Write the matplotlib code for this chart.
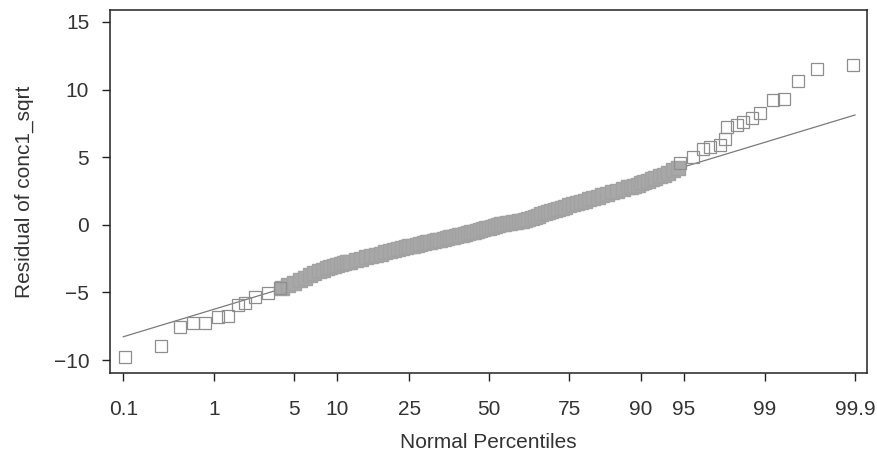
import matplotlib
matplotlib.use("Agg")
import matplotlib.pyplot as plt
from statistics import NormalDist

plt.rcParams['font.family'] = ['Liberation Sans', 'DejaVu Sans']

# ---- data (percentile, residual) ----
lower_pct = [0.105, 0.277, 0.452, 0.622, 0.82, 1.11, 1.38, 1.70, 1.96, 2.40, 3.11, 3.86]
lower_res = [-9.75, -8.96, -7.53, -7.24, -7.24, -6.79, -6.74, -5.93, -5.80, -5.31, -5.06, -4.69]

band_pct = [4.0, 4.5, 5.0, 5.5, 6.0, 6.5, 7.0, 7.5, 8.0, 8.5, 9.0, 9.5, 10, 10.5, 11, 11.5, 12,
            13, 14, 15, 16, 17, 18, 19, 20, 21, 22, 23, 24, 25, 26, 27, 28, 29, 30,
            31, 32, 33, 34, 35, 36, 37, 38, 39, 40, 41, 42, 43, 44, 45, 46, 47, 48, 49, 50,
            51, 52, 53, 54, 55, 56, 57, 58, 59, 60, 61, 62, 63, 64, 65, 66, 67, 68, 69, 70,
            71, 72, 73, 74, 75, 76, 77, 78, 79, 80, 81, 82, 83, 84, 85, 86, 87,
            88, 88.5, 89, 89.5, 90, 90.5, 91, 91.5, 92, 92.5, 93, 93.5, 94, 94.5]
band_res = [-4.65, -4.47, -4.28, -4.08, -3.90, -3.72, -3.58, -3.43, -3.33, -3.22, -3.13, -3.05,
            -2.97, -2.90, -2.84, -2.77, -2.71,
            -2.61, -2.49, -2.39, -2.30, -2.20, -2.12, -2.03, -1.95, -1.87, -1.80, -1.72, -1.66,
            -1.60, -1.54, -1.48, -1.42, -1.36, -1.30,
            -1.25, -1.19, -1.14, -1.09, -1.03, -0.98, -0.93, -0.88, -0.82, -0.77, -0.72, -0.66,
            -0.61, -0.56, -0.50, -0.44, -0.38, -0.32, -0.27, -0.21,
            -0.14, -0.08, -0.02, 0.04, 0.09, 0.12, 0.15, 0.19, 0.22, 0.25, 0.31, 0.38, 0.45,
            0.53, 0.60, 0.67, 0.77, 0.85, 0.94, 1.03,
            1.12, 1.19, 1.27, 1.35, 1.43, 1.51, 1.61, 1.70, 1.79, 1.89, 1.98, 2.08, 2.18, 2.29,
            2.41, 2.53, 2.65,
            2.77, 2.83, 2.90, 2.97, 3.06, 3.16, 3.26, 3.36, 3.47, 3.59, 3.72, 3.86, 4.02, 4.20]

upper_pct = [94.65, 95.77, 96.48, 96.89, 97.44, 97.68, 97.76, 98.18, 98.40, 98.68, 98.89,
             99.18, 99.36, 99.55, 99.717, 99.893]
upper_res = [4.55, 5.03, 5.60, 5.77, 5.90, 6.34, 7.25, 7.38, 7.62, 7.93, 8.24,
             9.22, 9.28, 10.65, 11.49, 11.81]

line_pct = [0.1, 99.9]
line_res = [-8.27, 8.12]

tick_pct = [0.1, 1, 5, 10, 25, 50, 75, 90, 95, 99, 99.9]
tick_lbl = ['0.1', '1', '5', '10', '25', '50', '75', '90', '95', '99', '99.9']
ytick_vals = [-10, -5, 0, 5, 10, 15]

nd = NormalDist()
def q(pcts):
    return [nd.inv_cdf(p / 100.0) for p in pcts]

fig = plt.figure(figsize=(8.78, 4.61), dpi=100)
ax = fig.add_axes([0.1253, 0.1915, 0.8618, 0.7868])

ax.plot(q(line_pct), line_res, color='#7a7a7a', lw=0.9, zorder=1)

ax.plot(q(band_pct), band_res, ls='none', marker='s', ms=10.2, mfc='#a8a8a8',
        mec='#a2a2a2', mew=1.0, zorder=2)
ax.plot(q(lower_pct), lower_res, ls='none', marker='s', ms=8.5, mfc='none',
        mec='#8e8e8e', mew=0.9, zorder=3)
ax.plot(q(upper_pct), upper_res, ls='none', marker='s', ms=8.5, mfc='none',
        mec='#8e8e8e', mew=0.9, zorder=3)

ax.set_xlim(-3.203, 3.189)
ax.set_ylim(-10.93, 15.88)
ax.set_xticks(q(tick_pct))
ax.set_xticklabels(tick_lbl)
ax.set_yticks(ytick_vals)
ax.set_yticklabels([('\u2212' + str(-v)) if v < 0 else str(v) for v in ytick_vals])

for s in ax.spines.values():
    s.set_linewidth(1.1)
    s.set_color('#222222')
ax.tick_params(axis='both', direction='out', length=6, width=1.0, color='#222222',
               labelsize=15, labelcolor='#333333')
ax.tick_params(axis='x', pad=14)
ax.tick_params(axis='y', pad=9)

ax.set_xlabel('Normal Percentiles', fontsize=15, color='#333333', labelpad=10)
ax.set_ylabel('Residual of conc1_sqrt', fontsize=15, color='#333333', labelpad=14)

fig.savefig('out.png', dpi=100)
